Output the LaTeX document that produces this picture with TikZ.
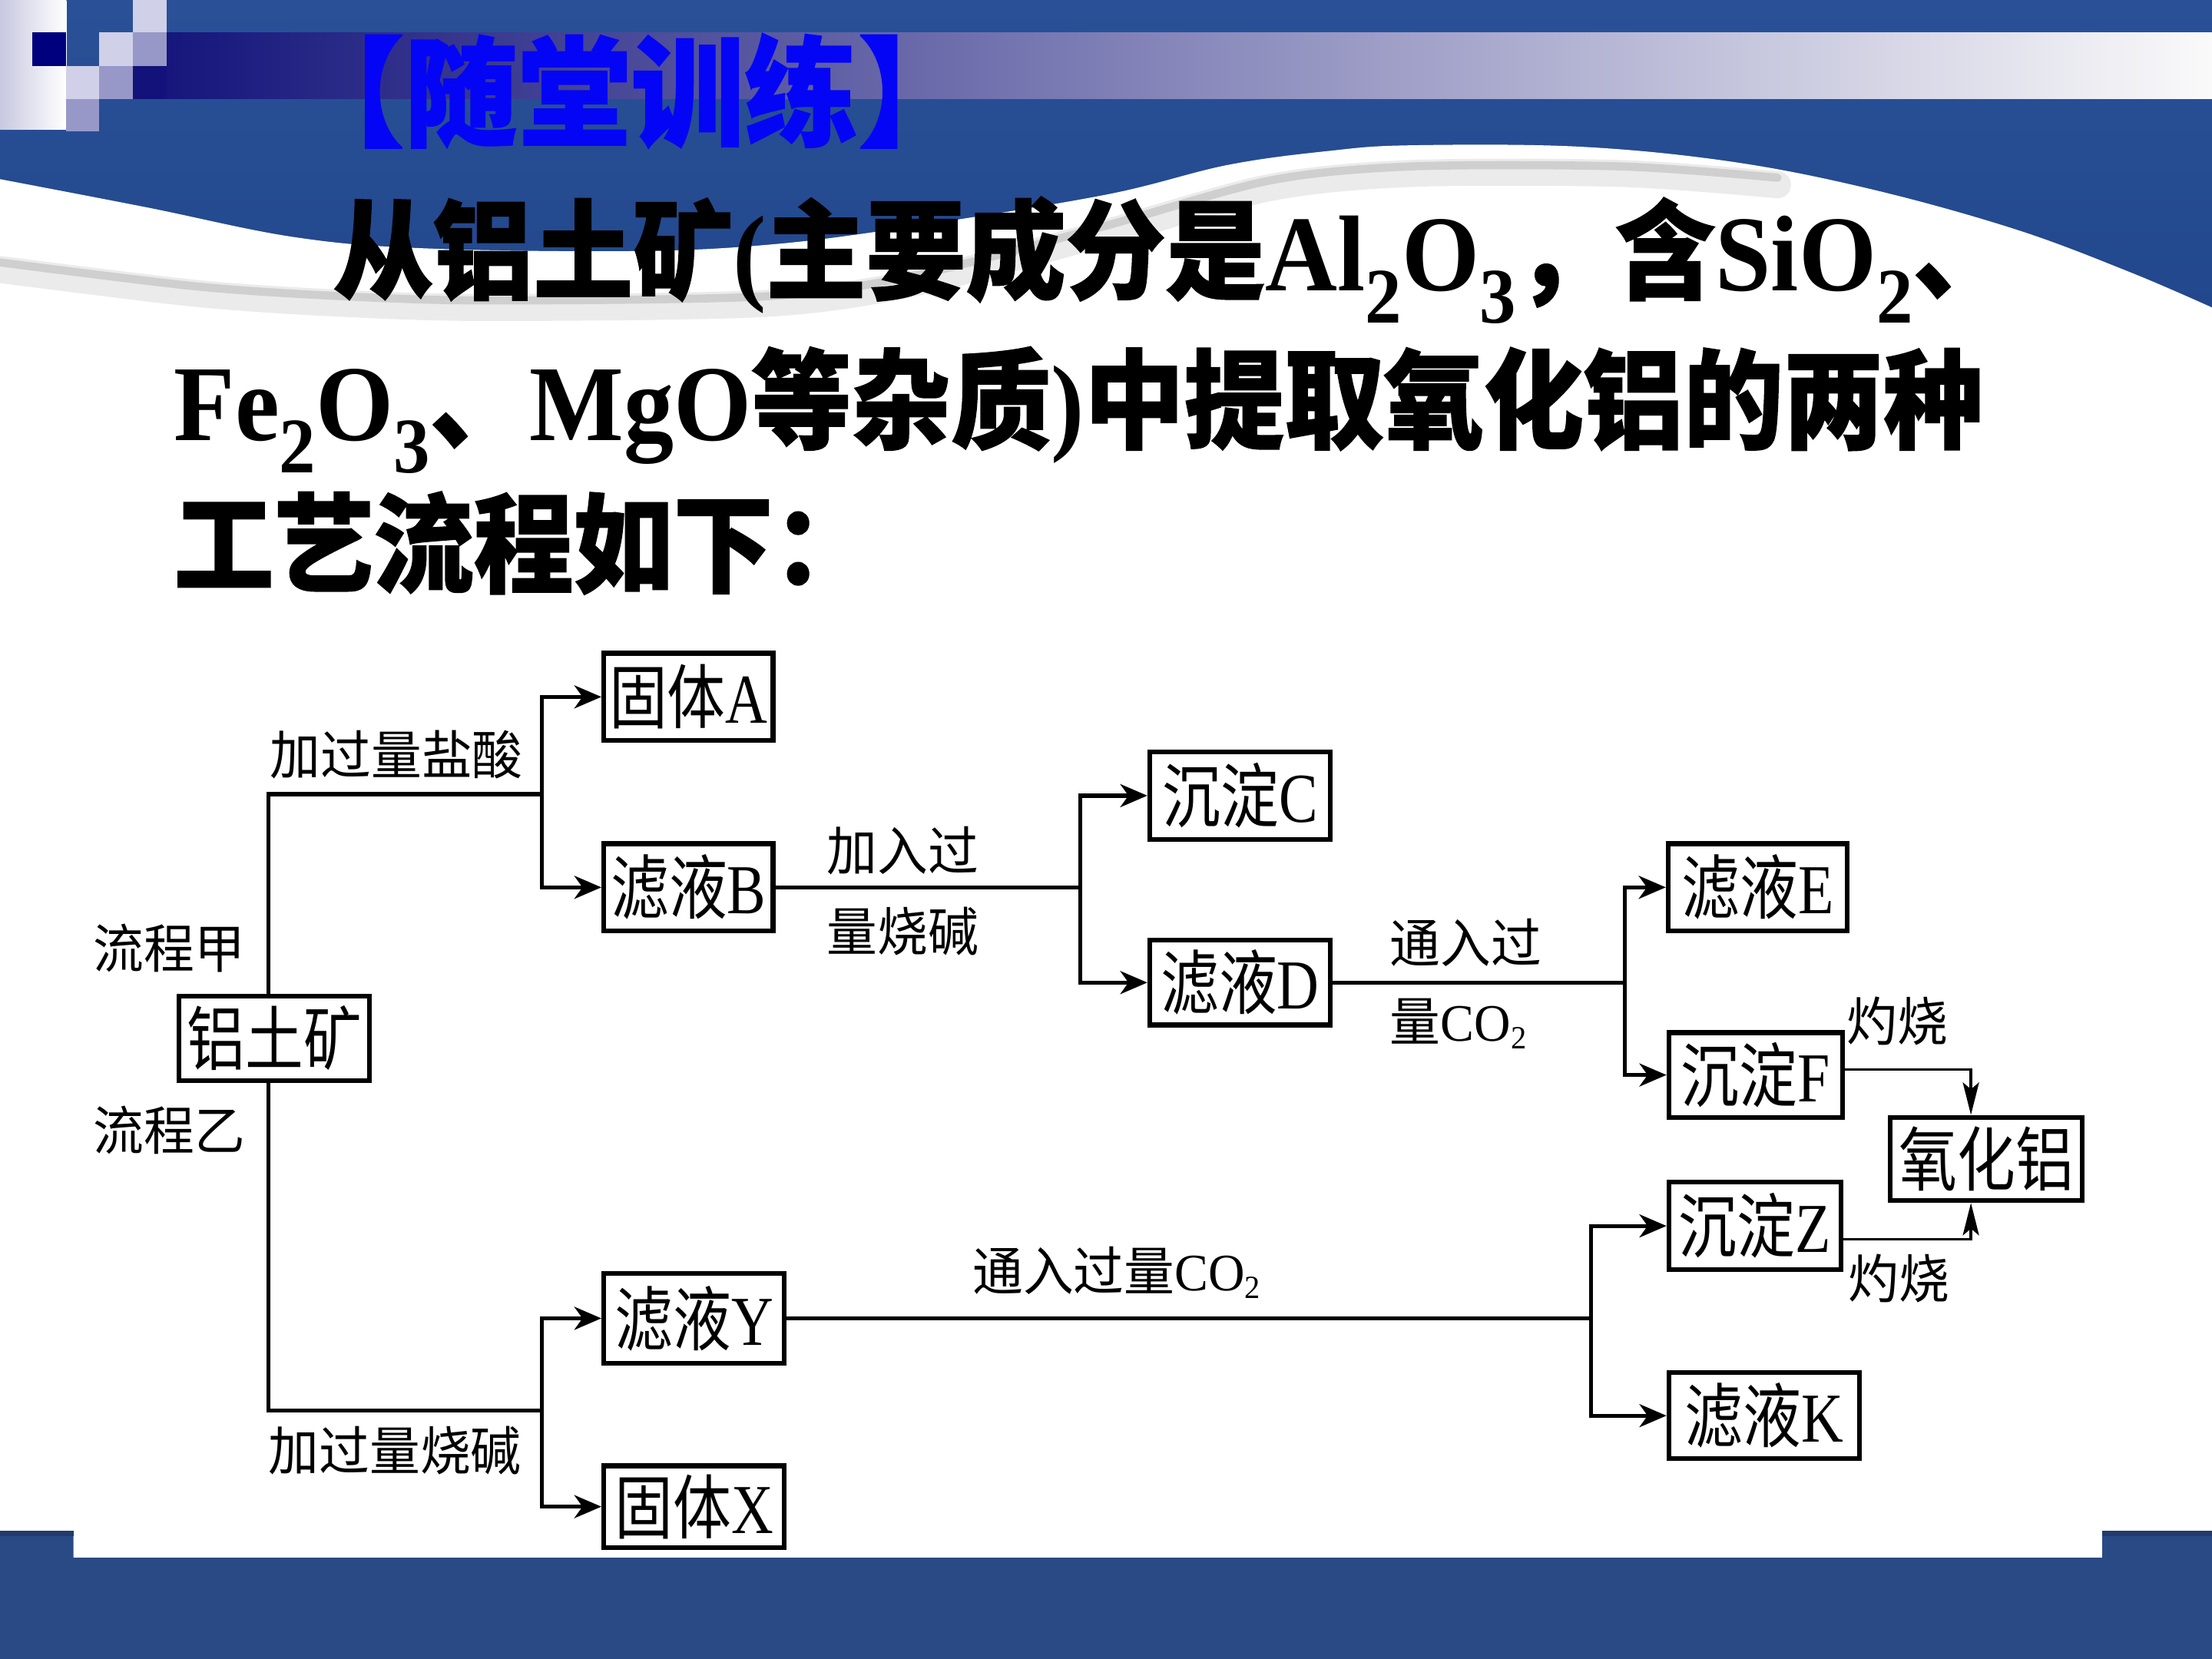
\documentclass[tikz,border=0pt]{standalone}
\usepackage{fontspec}
\usepackage{graphicx}
\setmainfont{Liberation Serif}
\newfontfamily\zhfont{Noto Sans CJK SC}[BoldFeatures={FakeBold=1.2}]
\newcommand\zh[1]{{\zhfont #1}}
\newcommand\bx[1]{\scalebox{0.83}[1]{#1}}
\newcommand\lb[1]{\scalebox{0.96}[1]{#1}}
\newcommand\psub[1]{\raisebox{-0.3em}{\fontsize{27}{27}\selectfont #1}}
\newcommand\lsub[1]{\raisebox{-0.15em}{\fontsize{12}{12}\selectfont #1}}
\usetikzlibrary{arrows.meta,calc}
\definecolor{bandblue}{HTML}{2A4A86}
\definecolor{topblueA}{HTML}{2A5197}
\definecolor{topblueB}{HTML}{21468C}
\definecolor{navy}{HTML}{00007E}
\definecolor{lav}{HTML}{D0D0E8}
\definecolor{medlav}{HTML}{9898C8}
\definecolor{lightstrip}{HTML}{C8C8E0}
\definecolor{barL}{HTML}{12127A}
\definecolor{barM}{HTML}{A4A4BE}
\definecolor{barR}{HTML}{FAFAFA}
\definecolor{titleblue}{RGB}{5,5,245}
\begin{document}
\begin{tikzpicture}[x=0.018367cm,y=-0.018367cm,
  box/.style={draw, line width=1.8pt, inner sep=0pt, font=\fontsize{26}{26}\selectfont},
  lab/.style={inner sep=0pt, font=\fontsize{19.5}{19.5}\selectfont},
  para/.style={inner sep=0pt, anchor=base west, font=\fontsize{37}{37}\selectfont\bfseries},
  conn/.style={line width=1.5pt},
  arr/.style={conn, -{Stealth[length=10pt,width=8.5pt,inset=3pt]}},
  tarr/.style={line width=1pt, -{Stealth[length=12pt,width=6pt,inset=2.5pt]}}
]
\useasboundingbox (0,0) rectangle (1568,1176);
% ---------- background ----------
\fill[bandblue] (0,0) rectangle (1568,1176);
\shade[top color=topblueA, bottom color=topblueB] (0,0) rectangle (1568,240);
\fill[white] plot[smooth, tension=0.6] coordinates {(0,127) (104,147) (208,168) (300,176) (450,178) (550,173) (650,160) (784,138) (870,117) (942,107) (1000,103) (1120,104) (1230,115) (1330,135) (1430,163) (1510,193) (1568,218)}
  -- (1568,1085) -- (1490,1085) -- (1490,1104) -- (52,1104) -- (52,1085) -- (0,1085) -- cycle;
% grey swoosh shadow
\begin{scope}
\clip plot[smooth, tension=0.6] coordinates {(0,127) (104,147) (208,168) (300,176) (450,178) (550,173) (650,160) (784,138) (870,117) (942,107) (1000,103) (1120,104) (1230,115) (1330,135) (1430,163) (1510,193) (1568,218)} -- (1568,400) -- (0,400) -- cycle;
\draw[black!25, line width=10pt, opacity=0.3, line cap=round] plot[smooth] coordinates {(0,191) (139,208) (243,215) (347,218) (544,215) (650,200) (784,165) (900,133) (1000,123) (1150,123) (1260,131)};
\draw[black!35, line width=3pt, opacity=0.4, line cap=round] plot[smooth] coordinates {(0,186) (139,203) (243,210) (347,213) (544,210) (650,195) (784,160) (900,128) (1000,118) (1150,118) (1260,126)};
\end{scope}
\fill[bandblue!80!black] (0,1085) rectangle (52,1089);
\fill[bandblue!80!black] (1490,1085) rectangle (1568,1089);
% ---------- header bar and squares ----------
\shade[left color=barL, middle color=barM, right color=barR] (94,23) rectangle (1568,70);
\shade[left color=lightstrip, right color=white] (0,0) rectangle (47,92);
\fill[navy] (23,23) rectangle (47,47);
\fill[lav] (94,0) rectangle (118,23);
\fill[lav] (70,23) rectangle (94,47);
\fill[medlav] (94,23) rectangle (118,47);
\fill[lav] (47,47) rectangle (70,70);
\fill[medlav] (70,47) rectangle (94,70);
\fill[medlav] (47,70) rectangle (70,93);
\fill[barL] (94,47) rectangle (118,70);
% ---------- title and question ----------
\node[anchor=base west, inner sep=0pt, text=titleblue, font=\fontsize{42}{42}\selectfont\bfseries] (title) at (206,97) {\scalebox{1}[1.05]{\zh{【随堂训练】}}};
\node[para] (p1) at (236,206) {\scalebox{1}[1.08]{\zh{从铝土矿}(\zh{主要成分是}Al\psub{2}O\psub{3}\zh{，含}SiO\psub{2}\zh{、}}};
\node[para] (p2) at (123,312) {\scalebox{1}[1.08]{Fe\psub{2}O\psub{3}\zh{、}MgO\zh{等杂质})\zh{中提取氧化铝的两种}}};
\node[para] (p3) at (123,414) {\scalebox{1}[1.08]{\zh{工艺流程如下：}}};
% ---------- boxes ----------
\node[box, minimum width=135*0.5226pt, minimum height=60*0.5226pt] (ore) at (194.5,736) {\bx{\zh{铝土矿}}};
\node[box, minimum width=120*0.5226pt, minimum height=62*0.5226pt] (A) at (488,494) {\bx{\zh{固体}A}};
\node[box, minimum width=120*0.5226pt, minimum height=62*0.5226pt] (B) at (488,629) {\bx{\zh{滤液}B}};
\node[box, minimum width=128*0.5226pt, minimum height=62*0.5226pt] (C) at (879,564) {\bx{\zh{沉淀}C}};
\node[box, minimum width=128*0.5226pt, minimum height=60*0.5226pt] (D) at (879,696.5) {\bx{\zh{滤液}D}};
\node[box, minimum width=127*0.5226pt, minimum height=62*0.5226pt] (E) at (1246,629) {\bx{\zh{滤液}E}};
\node[box, minimum width=123*0.5226pt, minimum height=60*0.5226pt] (F) at (1244.5,762) {\bx{\zh{沉淀}F}};
\node[box, minimum width=136*0.5226pt, minimum height=59*0.5226pt] (Al) at (1408,821.5) {\bx{\zh{氧化铝}}};
\node[box, minimum width=122*0.5226pt, minimum height=62*0.5226pt] (Z) at (1244,869) {\bx{\zh{沉淀}Z}};
\node[box, minimum width=135*0.5226pt, minimum height=61*0.5226pt] (K) at (1250.5,1003.5) {\bx{\zh{滤液}K}};
\node[box, minimum width=128*0.5226pt, minimum height=64*0.5226pt] (Y) at (492,934.5) {\bx{\zh{滤液}Y}};
\node[box, minimum width=128*0.5226pt, minimum height=58*0.5226pt] (X) at (492,1068) {\bx{\zh{固体}X}};
% ---------- labels ----------
\node[lab] (l1) at (281,535) {\lb{\zh{加过量盐酸}}};
\node[lab] (l2) at (120,672) {\lb{\zh{流程甲}}};
\node[lab] (l3) at (120,801) {\lb{\zh{流程乙}}};
\node[lab] (l4) at (280,1028) {\lb{\zh{加过量烧碱}}};
\node[lab] (l5) at (640,603) {\lb{\zh{加入过}}};
\node[lab] (l6) at (640,660) {\lb{\zh{量烧碱}}};
\node[lab] (l7) at (1039,668) {\lb{\zh{通入过}}};
\node[lab, anchor=base west] (l8) at (985,738) {\lb{\zh{量}CO\lsub{2}}};
\node[lab] (l9) at (1345,724) {\lb{\zh{灼烧}}};
\node[lab] (l10) at (1346,906) {\lb{\zh{灼烧}}};
\node[lab, anchor=base west] (l11) at (689,915) {\lb{\zh{通入过量}CO\lsub{2}}};
% ---------- connectors ----------
\coordinate (j1) at (384,563);
\coordinate (j5) at (384,1000);
\draw[conn] ([xshift=-2.2pt]ore.north) |- (j1);
\draw[arr] (j1) |- (A.west);
\draw[arr] (j1) |- (B.west);
\draw[conn] ([xshift=-2.2pt]ore.south) |- (j5);
\draw[arr] (j5) |- (Y.west);
\draw[arr] (j5) |- (X.west);
\path (B.east) ++(216,0) coordinate (j2);
\draw[conn] (B.east) -- (j2);
\draw[arr] (j2) |- (C.west);
\draw[arr] (j2) |- (D.west);
\path (D.east) ++(207,0) coordinate (j3);
\draw[conn] (D.east) -- (j3);
\draw[arr] (j3) |- (E.west);
\draw[arr] (j3) |- (F.west);
\path (Y.east) ++(570,0) coordinate (j4);
\draw[conn] (Y.east) -- (j4);
\draw[arr] (j4) |- (Z.west);
\draw[arr] (j4) |- (K.west);
\draw[tarr] ([yshift=2pt]F.east) -| ([xshift=-5.7pt]Al.north);
\draw[tarr] ([yshift=-5pt]Z.east) -| ([xshift=-5.7pt]Al.south);
\end{tikzpicture}
\end{document}
